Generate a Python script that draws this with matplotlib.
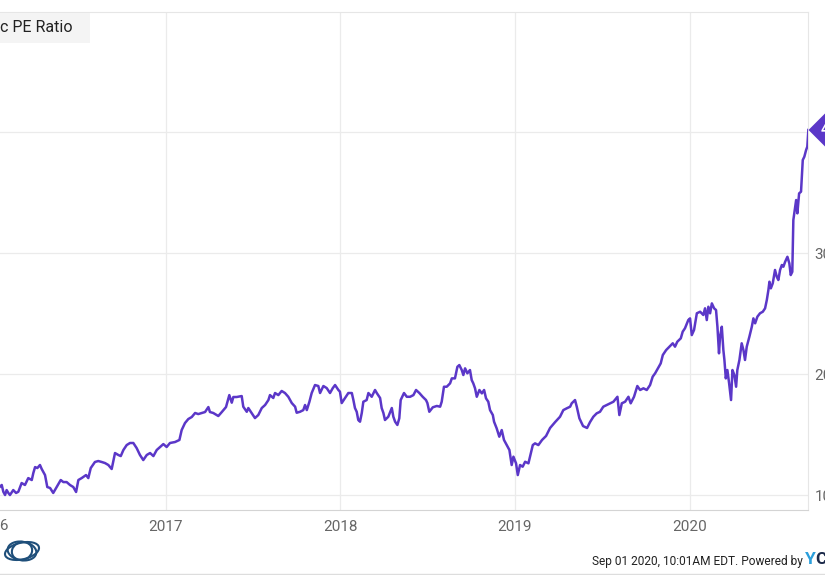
import matplotlib.pyplot as plt
from matplotlib.patches import Ellipse, Rectangle

plt.rcParams['font.family'] = ['Roboto', 'DejaVu Sans']

# PE ratio series (time as fractional year)
years = [
    2016.049, 2016.059, 2016.068, 2016.078, 2016.087, 2016.097, 2016.106, 2016.125, 2016.141, 2016.154,
    2016.173, 2016.192, 2016.211, 2016.231, 2016.240, 2016.250, 2016.263, 2016.278, 2016.288, 2016.307,
    2016.320, 2016.336, 2016.354, 2016.374, 2016.397, 2016.412, 2016.431, 2016.450, 2016.469, 2016.485,
    2016.498, 2016.517, 2016.542, 2016.555, 2016.569, 2016.593, 2016.612, 2016.632, 2016.651, 2016.670,
    2016.689, 2016.708, 2016.727, 2016.741, 2016.756, 2016.775, 2016.794, 2016.813, 2016.832, 2016.851,
    2016.870, 2016.890, 2016.909, 2016.928, 2016.947, 2016.966, 2016.985, 2017.004, 2017.023, 2017.052,
    2017.077, 2017.090, 2017.109, 2017.128, 2017.148, 2017.167, 2017.185, 2017.205, 2017.224, 2017.243,
    2017.252, 2017.271, 2017.300, 2017.320, 2017.344, 2017.363, 2017.377, 2017.386, 2017.405, 2017.434,
    2017.443, 2017.463, 2017.472, 2017.491, 2017.510, 2017.529, 2017.549, 2017.568, 2017.587, 2017.596,
    2017.615, 2017.625, 2017.644, 2017.663, 2017.682, 2017.701, 2017.721, 2017.740, 2017.749, 2017.768,
    2017.787, 2017.797, 2017.807, 2017.822, 2017.835, 2017.854, 2017.873, 2017.883, 2017.902, 2017.921,
    2017.940, 2017.956, 2017.969, 2017.988, 2017.997, 2018.007, 2018.026, 2018.045, 2018.065, 2018.074,
    2018.083, 2018.093, 2018.102, 2018.112, 2018.122, 2018.131, 2018.150, 2018.160, 2018.179, 2018.198,
    2018.208, 2018.227, 2018.236, 2018.246, 2018.255, 2018.274, 2018.294, 2018.303, 2018.313, 2018.326,
    2018.337, 2018.345, 2018.364, 2018.380, 2018.399, 2018.418, 2018.433, 2018.452, 2018.471, 2018.490,
    2018.498, 2018.509, 2018.529, 2018.552, 2018.571, 2018.580, 2018.593, 2018.609, 2018.628, 2018.638,
    2018.656, 2018.670, 2018.681, 2018.695, 2018.704, 2018.714, 2018.727, 2018.742, 2018.752, 2018.761,
    2018.771, 2018.781, 2018.796, 2018.810, 2018.823, 2018.834, 2018.847, 2018.857, 2018.873, 2018.880,
    2018.895, 2018.910, 2018.924, 2018.937, 2018.953, 2018.968, 2018.981, 2018.991, 2019.006, 2019.016,
    2019.029, 2019.044, 2019.058, 2019.077, 2019.086, 2019.102, 2019.115, 2019.134, 2019.155, 2019.178,
    2019.201, 2019.230, 2019.258, 2019.277, 2019.297, 2019.316, 2019.325, 2019.344, 2019.354, 2019.369,
    2019.390, 2019.413, 2019.430, 2019.449, 2019.468, 2019.487, 2019.506, 2019.526, 2019.545, 2019.564,
    2019.587, 2019.598, 2019.612, 2019.631, 2019.650, 2019.663, 2019.682, 2019.701, 2019.717, 2019.736,
    2019.755, 2019.774, 2019.789, 2019.803, 2019.822, 2019.835, 2019.847, 2019.866, 2019.885, 2019.904,
    2019.917, 2019.930, 2019.950, 2019.961, 2019.974, 2019.993, 2020.003, 2020.013, 2020.026, 2020.042,
    2020.061, 2020.079, 2020.089, 2020.099, 2020.108, 2020.118, 2020.128, 2020.141, 2020.152, 2020.160,
    2020.169, 2020.175, 2020.185, 2020.194, 2020.200, 2020.208, 2020.217, 2020.227, 2020.238, 2020.246,
    2020.257, 2020.267, 2020.274, 2020.286, 2020.299, 2020.309, 2020.318, 2020.328, 2020.343, 2020.357,
    2020.366, 2020.376, 2020.389, 2020.404, 2020.420, 2020.433, 2020.443, 2020.452, 2020.458, 2020.466,
    2020.477, 2020.490, 2020.500, 2020.509, 2020.519, 2020.529, 2020.538, 2020.548, 2020.561, 2020.572,
    2020.580, 2020.589, 2020.595, 2020.611, 2020.618, 2020.628, 2020.639, 2020.649, 2020.658, 2020.668,
    2020.675, 2020.681,
]
pe_ratio = [
    10.69, 10.83, 10.27, 10.00, 10.41, 10.17, 10.00, 10.41, 10.17, 10.27,
    10.99, 10.83, 11.40, 11.24, 11.82, 12.31, 12.23, 12.48, 12.15, 11.65,
    10.66, 10.58, 10.17, 10.66, 11.24, 11.07, 11.07, 10.83, 10.66, 10.25,
    11.24, 11.40, 11.65, 11.40, 12.23, 12.73, 12.81, 12.73, 12.64, 12.48,
    12.15, 13.47, 13.31, 13.22, 13.72, 14.13, 14.30, 14.30, 13.88, 13.31,
    12.89, 13.31, 13.47, 13.22, 13.72, 13.97, 14.21, 13.97, 14.30, 14.38,
    14.55, 15.37, 15.95, 16.28, 16.45, 16.78, 16.69, 16.78, 16.86, 17.27,
    16.86, 16.78, 16.53, 16.86, 17.27, 18.26, 17.63, 18.10, 18.10, 18.18,
    17.30, 16.88, 17.19, 16.78, 16.36, 16.61, 17.19, 17.44, 17.85, 18.26,
    18.02, 18.43, 18.26, 18.60, 18.43, 18.12, 17.60, 17.30, 16.80, 16.88,
    17.02, 17.44, 17.02, 17.71, 18.43, 19.09, 19.01, 18.43, 19.01, 18.84,
    18.43, 18.84, 19.09, 18.68, 18.54, 17.60, 18.02, 18.43, 18.43, 17.85,
    17.19, 16.88, 16.20, 16.06, 16.78, 17.71, 17.85, 18.43, 18.12, 18.68,
    18.43, 18.02, 17.19, 16.78, 16.20, 16.47, 17.19, 16.47, 16.06, 15.79,
    16.34, 17.85, 18.43, 18.12, 18.12, 18.26, 18.68, 18.43, 18.12, 17.85,
    17.60, 16.88, 17.25, 17.36, 17.30, 17.71, 18.95, 18.95, 19.23, 19.64,
    19.64, 20.60, 20.74, 20.33, 19.92, 20.47, 20.06, 20.33, 19.50, 19.23,
    18.82, 18.12, 18.68, 18.40, 18.68, 17.99, 17.71, 17.02, 16.61, 16.06,
    15.51, 14.82, 15.37, 14.55, 14.13, 13.72, 12.48, 13.17, 12.62, 11.65,
    12.48, 12.34, 12.75, 12.62, 13.17, 14.13, 14.27, 14.13, 14.55, 14.88,
    15.54, 16.03, 16.47, 17.02, 17.17, 17.30, 17.58, 17.85, 17.30, 16.34,
    15.70, 15.54, 16.03, 16.47, 16.75, 16.88, 17.30, 17.44, 17.58, 17.71,
    18.12, 16.61, 17.58, 17.71, 18.12, 17.58, 18.12, 19.01, 18.68, 18.82,
    18.68, 19.09, 19.78, 20.06, 20.55, 20.88, 21.57, 21.98, 22.26, 22.54,
    22.26, 22.67, 22.95, 23.50, 23.78, 24.46, 24.60, 23.22, 23.64, 25.02,
    25.15, 24.88, 25.43, 24.46, 25.56, 25.02, 25.84, 25.43, 25.29, 23.91,
    21.71, 23.08, 23.91, 21.98, 21.16, 19.64, 20.33, 19.23, 17.85, 20.33,
    19.92, 18.95, 20.33, 21.16, 22.54, 21.98, 21.16, 22.26, 23.08, 23.91,
    24.60, 24.19, 24.74, 25.02, 25.15, 25.43, 26.12, 26.94, 27.63, 27.08,
    27.50, 28.60, 28.04, 27.77, 28.60, 29.01, 28.87, 29.28, 29.69, 29.15,
    28.18, 28.45, 32.73, 34.38, 33.28, 34.93, 35.07, 37.69, 37.96, 38.51,
    38.79, 40.17,
]

x_ticks = [2016, 2017, 2018, 2019, 2020]
y_ticks = [10, 20, 30, 40]

LINE_COLOR = '#5b37c8'
GRID_COLOR = '#ebebeb'
TEXT_COLOR = '#666666'

fig = plt.figure(figsize=(8.25, 5.75), dpi=100)
ax = fig.add_axes([0.0, 0.113, 0.9794, 0.8661])

ax.plot(years, pe_ratio, color=LINE_COLOR, lw=1.8, solid_joinstyle='round', zorder=3)
ax.set_xlim(2016.049, 2020.679)
ax.set_ylim(8.76, 49.92)

ax.set_xticks(x_ticks[1:])
ax.set_xticklabels([str(y) for y in x_ticks[1:]])
ax.set_yticks(y_ticks)
ax.set_yticklabels([str(v) for v in y_ticks])
ax.yaxis.tick_right()
ax.tick_params(axis='both', length=0, labelsize=11, colors=TEXT_COLOR)
ax.tick_params(axis='x', pad=7)
ax.tick_params(axis='y', pad=4.5)
ax.grid(True, color=GRID_COLOR, lw=0.9)
ax.set_axisbelow(True)

# 2016 label sits mostly off the left edge
ax.text(x_ticks[0], -0.019, str(x_ticks[0]), transform=ax.get_xaxis_transform(),
        ha='center', va='top', fontsize=11, color=TEXT_COLOR, clip_on=False)

ax.spines['left'].set_visible(False)
ax.spines['top'].set_color('#e6e6e6')
ax.spines['right'].set_color('#e6e6e6')
ax.spines['bottom'].set_color('#d4d4d4')

# title box
fig.patches.append(Rectangle((0, 1 - 43 / 575), 90 / 825, 30 / 575, transform=fig.transFigure,
                             facecolor='#f4f4f4', edgecolor='none', zorder=5))
fig.text(0.0, 1 - 27 / 575, 'c PE Ratio', fontsize=11.5, color='#222222', va='center', ha='left', zorder=6)

# last value tag
ax.annotate(f'{pe_ratio[-1]:.2f}', xy=(years[-1], pe_ratio[-1]), xytext=(9, 0),
            textcoords='offset points', ha='left', va='center', color='white', fontsize=10,
            fontweight='bold', annotation_clip=False,
            bbox=dict(boxstyle='larrow,pad=0.3', fc=LINE_COLOR, ec='none'))

# footer
fig.text(803 / 825, 1 - 561 / 575, 'Sep 01 2020, 10:01AM EDT. Powered by', fontsize=8.6,
         color='#222222', ha='right', va='center')
fig.text(805 / 825, 1 - 560 / 575, 'Y', fontsize=12.5, fontweight='bold', color='#2b9fdc', ha='left', va='center')
fig.text(815 / 825, 1 - 560 / 575, 'C', fontsize=12.5, fontweight='bold', color='#1c2a4a', ha='left', va='center')
fig.add_artist(plt.Line2D([0, 1], [1 - 573.5 / 575] * 2, transform=fig.transFigure, color='#dddddd', lw=1))

# small ring logo bottom left
for ang, w, h in [(25, 36, 16), (-35, 30, 18), (80, 26, 14)]:
    fig.add_artist(Ellipse((22 / 825, 1 - 551 / 575), w / 825, h / 575, angle=ang,
                           transform=fig.transFigure, fill=False, ec='#1f4f7a', lw=1.5))

fig.savefig('out.png', dpi=100)
